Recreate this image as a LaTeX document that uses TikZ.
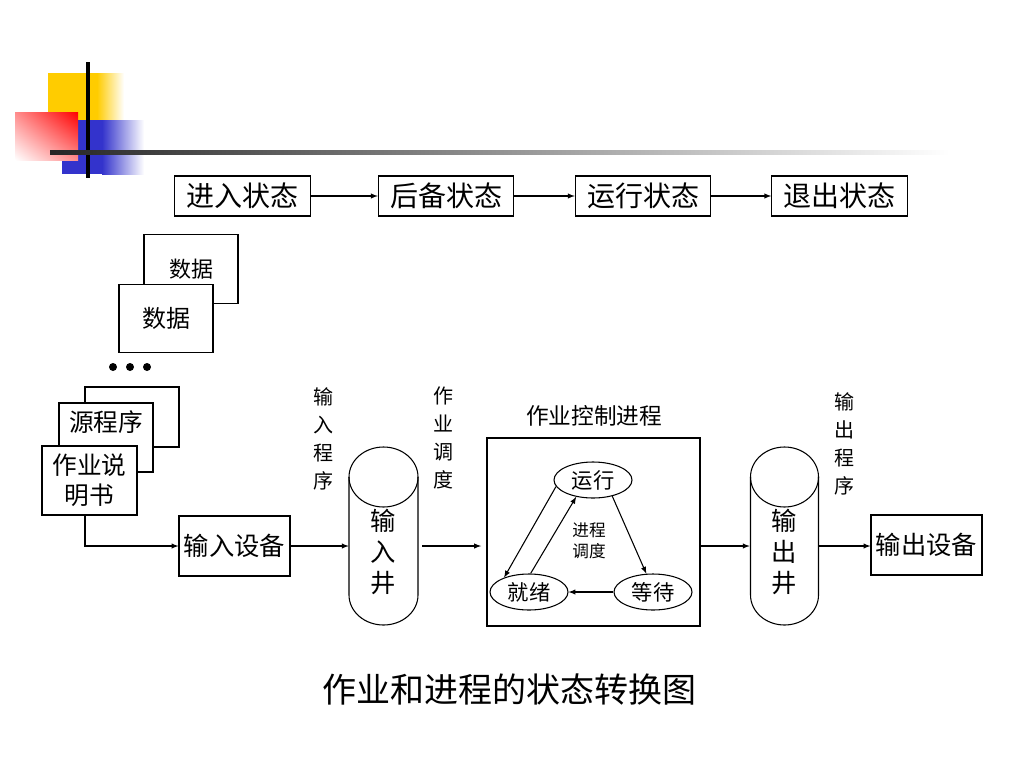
\documentclass[tikz,border=0pt]{standalone}
\usepackage{fontspec}
\setmainfont{Noto Sans CJK SC}
\usetikzlibrary{shapes.geometric,shadings}
\definecolor{decoyellow}{RGB}{255,204,0}
\definecolor{decoblue}{RGB}{51,51,204}
\tikzstyle{point}=[circle, fill, inner sep=0pt, minimum size=6pt]
\tikzstyle{statebox}=[draw, line width=0.8pt, inner sep=0pt, minimum width=101.5pt, minimum height=30pt, font=\fontsize{21}{25}\selectfont]
\tikzstyle{card}=[draw, fill=white, line width=0.8pt, inner sep=0pt, minimum width=70.5pt, minimum height=51.5pt]
\tikzstyle{devbox}=[draw, line width=0.8pt, inner sep=0pt, minimum width=83.25pt, minimum height=45pt, font=\fontsize{19}{23}\selectfont]
\tikzstyle{stateoval}=[ellipse, draw, line width=0.8pt, inner sep=0pt, minimum width=58.5pt, minimum height=27pt, font=\fontsize{16}{18}\selectfont]
\tikzstyle{vlabel}=[align=center, inner sep=0pt, font=\fontsize{15}{21}\selectfont]
\tikzstyle{welltext}=[align=center, inner sep=0pt, minimum width=51.75pt, font=\fontsize{19}{23.5}\selectfont]
\tikzstyle{arrow}=[->, >=latex, line width=0.8pt]

\begin{document}
\begin{tikzpicture}[x=0.75pt, y=-0.75pt]
		   \useasboundingbox (0,0) rectangle (1024,768);
		   % corner decoration
		   \begin{scope}
			   \fill[decoyellow] (48,73) rectangle (97,120);
			   \shade[left color=decoyellow, right color=white] (97,73) rectangle (124,120);
			   \fill[decoblue] (62,120) rectangle (102,174);
			   \shade[left color=decoblue, right color=white] (102,120) rectangle (144,174);
			   \shade[upper right=red, upper left=red!45, lower right=red!45, lower left=white] (15,112) rectangle (78,160);
			   \fill[black] (86,62) rectangle (90,178);
			   \shade[left color=black!85, right color=white] (50,150) rectangle (950,154);
		   \end{scope}
		   % job states
		   \begin{scope}
			   \node (enter) at (242.5,196)[statebox] {进入状态};
			   \node (backup) at (446,196)[statebox] {后备状态};
			   \node (running) at (643,196)[statebox] {运行状态};
			   \node (exit) at (839.5,196)[statebox] {退出状态};
		   \end{scope}
		   \begin{scope}
			   \path [arrow] (enter) edge (backup);
			   \path [arrow] (backup) edge (running);
			   \path [arrow] (running) edge (exit);
		   \end{scope}
		   % input cards
		   \begin{scope}
			   \node (data2) at (191,269)[card, font=\fontsize{16.5}{20}\selectfont] {数据};
			   \node (data1) at (166,318.5)[card, font=\fontsize{18}{22}\selectfont] {数据};
			   \node (dot1) at (113,367)[point] {};
			   \node (dot2) at (130,367)[point] {};
			   \node (dot3) at (147,367)[point] {};
			   \node (prog3) at (132,417)[card, minimum height=45pt] {};
			   \node (prog2) at (106,437.5)[card, minimum height=51.75pt] {};
			   \node (src) at (106,422)[inner sep=0pt, font=\fontsize{18.5}{22}\selectfont] {源程序};
			   \node (spec) at (89.5,480.5)[card, minimum width=71.25pt, minimum height=51.75pt, align=center, font=\fontsize{18.5}{22.5}\selectfont] {作业说\\明书};
			   \coordinate (specout) at (85,515);
		   \end{scope}
		   % devices, wells and control process
		   \begin{scope}
			   \node (indev) at (234.5,546)[devbox] {输入设备};
			   \draw[line width=0.8pt] (383.5,477) ellipse [x radius=34.5, y radius=30];
			   \draw[line width=0.8pt] (349,477) -- (349,595) arc [start angle=180, end angle=0, x radius=34.5, y radius=30] -- (418,477);
			   \node (inwell) at (383.5,552)[welltext] {输\\入\\井};
			   \node (inprog) at (323,439)[vlabel] {输\\入\\程\\序};
			   \node (jobsched) at (443,438)[vlabel] {作\\业\\调\\度};
			   \node (ctrl) at (593.5,532)[draw, line width=0.8pt, minimum width=159.75pt, minimum height=141pt] {};
			   \node (ctrltitle) at (594,416)[inner sep=0pt, font=\fontsize{17}{20}\selectfont] {作业控制进程};
			   \node (run) at (593,480)[stateoval] {运行};
			   \node (ready) at (529,592)[stateoval] {就绪};
			   \node (wait) at (653,592)[stateoval] {等待};
			   \node (procsched) at (589,541)[align=center, inner sep=0pt, font=\fontsize{12.5}{16}\selectfont] {进程\\调度};
			   \draw[line width=0.8pt] (784.5,477) ellipse [x radius=34, y radius=30];
			   \draw[line width=0.8pt] (750.5,477) -- (750.5,595) arc [start angle=180, end angle=0, x radius=34, y radius=30] -- (818.5,477);
			   \node (outwell) at (784.5,552)[welltext] {输\\出\\井};
			   \node (outprog) at (844,444)[vlabel] {输\\出\\程\\序};
			   \node (outdev) at (926.5,545)[devbox] {输出设备};
		   \end{scope}
		   \begin{scope}
			   \draw [arrow] (specout) |- (indev.west);
			   \draw [arrow] (indev.east) -- (indev.east -| inwell.west);
			   \draw [arrow, shorten <=3pt, shorten >=4pt] (inwell.east |- indev.east) -- (ctrl.west |- indev.east);
			   \draw [arrow] (ctrl.east |- indev.east) -- (outwell.west |- indev.east);
			   \draw [arrow] (outwell.east |- indev.east) -- (outdev.west |- indev.east);
			   \path [arrow] (run.190) edge (ready.150);
			   \path [arrow] (ready.85) edge (run.225);
			   \path [arrow] (run.-40) edge (wait.110);
			   \path [arrow] (wait) edge (ready);
		   \end{scope}
		   \node (caption) at (509.5,690)[font=\fontsize{25.5}{30}\selectfont] {作业和进程的状态转换图};
	   \end{tikzpicture}
\end{document}
